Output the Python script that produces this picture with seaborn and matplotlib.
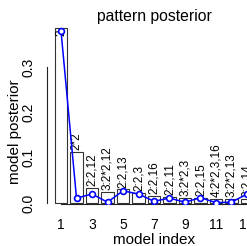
import numpy as np
import pandas as pd
import matplotlib
matplotlib.use("Agg")
import matplotlib.pyplot as plt
import seaborn as sns

# model posteriors (bars), pattern labels and blue points
model_index = [1, 2, 3, 4, 5, 6, 7, 8, 9, 10, 11, 12, 13]
posterior = [0.386, 0.113, 0.033, 0.025, 0.030, 0.022, 0.016, 0.014, 0.012, 0.012, 0.010, 0.010, 0.010]
patterns = ["2", "2*2", "2:2,12", "3:2*2,12", "2:2,13", "2:2,3", "2:2,16", "2:2,11",
            "3:2*2,3", "2:2,15", "4:2*2,3,16", "3:2*2,13", "2:2,14"]
point_post = [0.380, 0.011, 0.020, 0.002, 0.027, 0.020, 0.004, 0.011, 0.002, 0.012, 0.001, 0.002, 0.020]
xtick_labels = ["1", "", "3", "", "5", "", "7", "", "9", "", "11", "", "13"]
ytick_vals = [0.0, 0.1, 0.2, 0.3]
ytick_labels = ["0.0", "0.1", "0.2", "0.3"]

sns.set_style("white")
plt.rcParams['font.family'] = ['Liberation Sans', 'DejaVu Sans']

W, H = 247, 246
fig = plt.figure(figsize=(W / 100, H / 100), dpi=100)
# plot region runs past the right edge, as in the original
ax = fig.add_axes([50 / W, 1 - 204 / H, 208 / W, 182 / H])

df = pd.DataFrame({"model": model_index, "post": posterior})
sns.barplot(data=df, x="model", y="post", native_scale=True, width=0.83,
            color="white", edgecolor="#333333", linewidth=0.8, saturation=1, ax=ax)
for b in ax.patches:
    b.set_facecolor("white")

ax.set_xlim(0.29, 13.71)
ax.set_ylim(-0.002, 0.3996)

top = ax.get_ylim()[1]
for x, h, lab in zip(model_index, posterior, patterns):
    if h + 0.02 > top:
        ax.text(x, h - 0.003, lab, rotation=90, ha="center", va="top", fontsize=8.5, color="black")
    else:
        ax.text(x, h + 0.004, lab, rotation=90, ha="center", va="bottom", fontsize=8.5, color="black")

sns.lineplot(x=model_index, y=point_post, color="blue", linewidth=1.1, marker="o",
             markersize=4.2, markerfacecolor="white", markeredgecolor="blue",
             markeredgewidth=1.2, ax=ax, zorder=5)

for s in ["top", "right"]:
    ax.spines[s].set_visible(False)
ax.spines["left"].set_bounds(0, 0.3)
ax.spines["left"].set_position(("outward", 2.2))
ax.spines["bottom"].set_bounds(1, 13)
for s in ["left", "bottom"]:
    ax.spines[s].set_color("#222222")
    ax.spines[s].set_linewidth(0.8)

ax.set_xticks(model_index)
ax.set_xticklabels(xtick_labels)
ax.set_yticks(ytick_vals)
ax.set_yticklabels(ytick_labels, rotation=90, va="center")
ax.tick_params(axis="both", length=4.5, width=0.8, color="#222222", labelsize=10, labelcolor="black")
ax.tick_params(axis="x", pad=5.5)
ax.tick_params(axis="y", pad=4.0)

ax.set_xlabel("model index", fontsize=11, color="black", va="center")
ax.set_ylabel("model posterior", fontsize=11, color="black", va="center")
ax.xaxis.set_label_coords((154 - 50) / 208, (204 - 240) / 182)
ax.yaxis.set_label_coords((15 - 50) / 208, (204 - 132) / 182)

fig.text(154 / W, 1 - 17 / H, "pattern posterior", ha="center", va="center", fontsize=11.3, color="black")

fig.savefig("out.png", dpi=100)
